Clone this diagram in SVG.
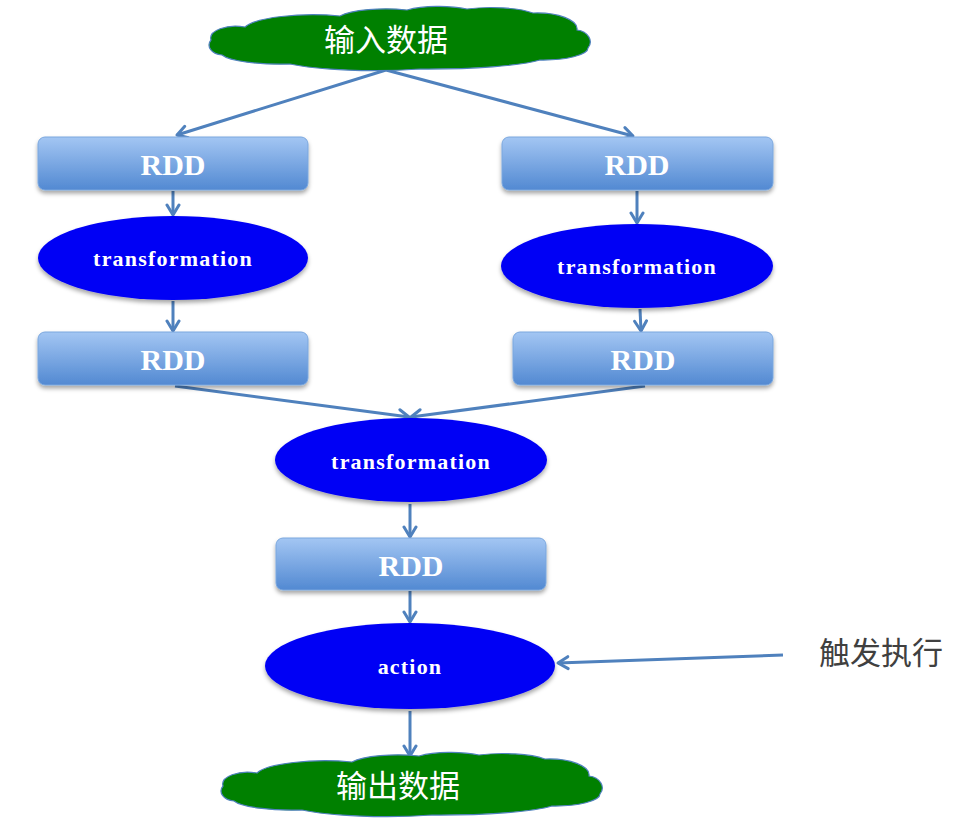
<svg xmlns="http://www.w3.org/2000/svg" width="964" height="836" viewBox="0 0 964 836">
<defs>
<linearGradient id="rddGrad" x1="0" y1="0" x2="0" y2="1">
<stop offset="0" stop-color="#a3c6f3"/>
<stop offset="1" stop-color="#5289d2"/>
</linearGradient>
<filter id="shadow" x="-10%" y="-20%" width="120%" height="150%">
<feDropShadow dx="0" dy="3" stdDeviation="2" flood-color="#000" flood-opacity="0.35"/>
</filter>
<marker id="arrow" markerUnits="userSpaceOnUse" markerWidth="18" markerHeight="18" refX="13" refY="8" orient="auto">
<path d="M3,2 L13,8 L3,14" fill="none" stroke="#4f81bd" stroke-width="3" stroke-linejoin="round" stroke-linecap="round"/>
</marker>
<path id="cloud" d="M211,40 A25,12 0 0 1 245,27 A70,16 0 0 1 340,16 A50,12 0 0 1 407,10 A45,12 0 0 1 467,9 A50,12 0 0 1 533,13 A40,16 0 0 1 577,30 A16,12 0 0 1 588,48 A45,12 0 0 1 540,60 A120,14 0 0 1 420,69 A100,14 0 0 1 290,64 A60,12 0 0 1 222,55 A14,10 0 0 1 211,40 Z"/>
<style>
.cloud{fill:#008000;stroke:#4f81bd;stroke-width:1.2}
.cloudText{font-family:"Noto Sans CJK SC","Noto Sans",sans-serif;font-size:31px;fill:#ffffff;text-anchor:middle}
.rdd{fill:url(#rddGrad);stroke:#7ba7de;stroke-width:1;filter:url(#shadow)}
.rddText{font-family:"Liberation Serif",serif;font-weight:bold;font-size:30px;fill:#ffffff;text-anchor:middle}
.op{fill:#0000f5;filter:url(#shadow)}
.opText{font-family:"Liberation Serif",serif;font-weight:bold;font-size:22px;letter-spacing:1.2px;fill:#ffffff;text-anchor:middle}
.conn{fill:none;stroke:#4f81bd;stroke-width:3;marker-end:url(#arrow)}
.note{font-family:"Noto Sans CJK SC","Noto Sans",sans-serif;font-size:31px;fill:#404040;text-anchor:middle}
</style>
</defs>
<rect x="0" y="0" width="964" height="836" fill="#ffffff"/>

<g id="connectors">
<line class="conn" x1="386" y1="70" x2="177" y2="135"/>
<line class="conn" x1="386" y1="70" x2="633" y2="136"/>
<line class="conn" x1="173" y1="191" x2="173" y2="215"/>
<line class="conn" x1="173" y1="301" x2="173" y2="331"/>
<line class="conn" x1="637" y1="191" x2="637" y2="223"/>
<line class="conn" x1="640" y1="309" x2="641" y2="331"/>
<line class="conn" x1="175" y1="386" x2="409" y2="417"/>
<line class="conn" x1="645" y1="386" x2="411" y2="417"/>
<line class="conn" x1="410" y1="504" x2="410" y2="537"/>
<line class="conn" x1="410" y1="591" x2="410" y2="622"/>
<line class="conn" x1="410" y1="711" x2="410" y2="756"/>
<line class="conn" x1="783" y1="655" x2="558" y2="663"/>
</g>

<g id="input">
<use href="#cloud" class="cloud"/>
<text class="cloudText" x="386" y="51">输入数据</text>
</g>

<g id="rdd-left-1">
<rect class="rdd" x="38" y="137" width="270" height="53" rx="7"/>
<text class="rddText" x="173" y="175">RDD</text>
</g>
<g id="rdd-right-1">
<rect class="rdd" x="502" y="137" width="271" height="53" rx="7"/>
<text class="rddText" x="637" y="175">RDD</text>
</g>

<g id="transform-left">
<ellipse class="op" cx="173" cy="258" rx="135" ry="42"/>
<text class="opText" x="173" y="266">transformation</text>
</g>
<g id="transform-right">
<ellipse class="op" cx="637" cy="266" rx="136" ry="42"/>
<text class="opText" x="637" y="274">transformation</text>
</g>

<g id="rdd-left-2">
<rect class="rdd" x="38" y="332" width="270" height="53" rx="7"/>
<text class="rddText" x="173" y="370">RDD</text>
</g>
<g id="rdd-right-2">
<rect class="rdd" x="513" y="332" width="260" height="53" rx="7"/>
<text class="rddText" x="643" y="370">RDD</text>
</g>

<g id="transform-middle">
<ellipse class="op" cx="411" cy="460" rx="136" ry="42"/>
<text class="opText" x="411" y="469">transformation</text>
</g>

<g id="rdd-3">
<rect class="rdd" x="276" y="538" width="270" height="52" rx="7"/>
<text class="rddText" x="411" y="576">RDD</text>
</g>

<g id="action">
<ellipse class="op" cx="410" cy="666" rx="145" ry="43"/>
<text class="opText" x="410" y="674">action</text>
</g>

<g id="output">
<use href="#cloud" class="cloud" transform="translate(12,746)"/>
<text class="cloudText" x="398" y="797">输出数据</text>
</g>

<g id="trigger">
<text class="note" x="881" y="664">触发执行</text>
</g>
</svg>
